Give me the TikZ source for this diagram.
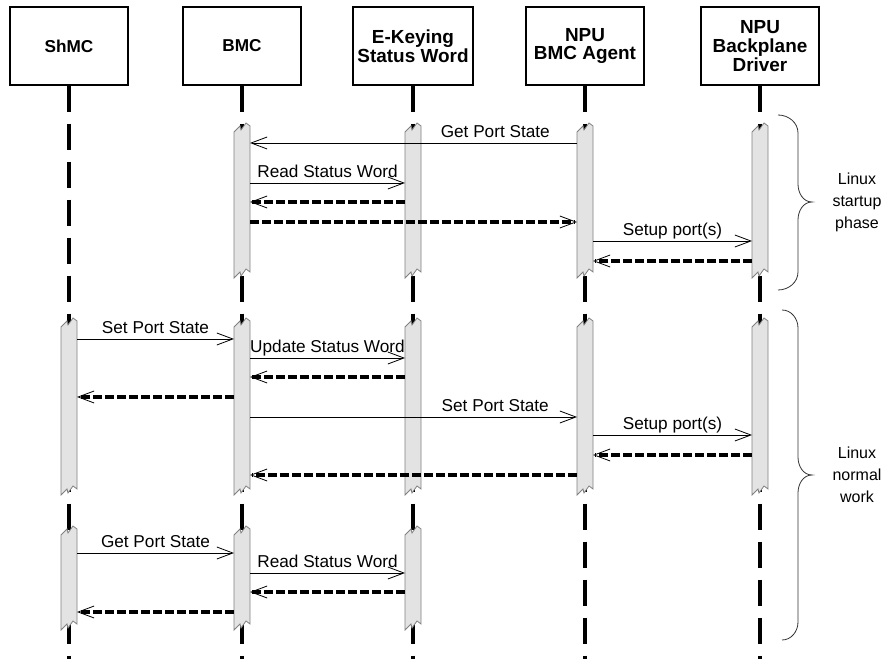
\documentclass[tikz,border=0pt]{standalone}
\usepackage{fontspec}
\setmainfont{Liberation Sans}
\usetikzlibrary{arrows.meta,positioning}

\begin{document}
\begin{tikzpicture}[
    x=0.75pt, y=-0.75pt,
    every node/.style={font=\fontsize{12.9}{14}\selectfont},
    head/.style={draw, line width=0.8pt, minimum width=88.5pt, minimum height=58.5pt,
        align=center, font=\bfseries\fontsize{12.9}{14}\selectfont},
    bighead/.style={head, font=\bfseries\fontsize{14.2}{14}\selectfont},
    life/.style={line width=3pt, dash pattern=on 19.5pt off 9pt},
    msg/.style={line width=0.6pt, -{Straight Barb[length=12pt,width=9pt,line width=0.6pt]}},
    ret/.style={line width=2.5pt, dash pattern=on 6.5pt off 2.5pt,
        -{Straight Barb[length=12pt,width=9pt,line width=0.6pt]}},
    lbl/.style={above, inner sep=1pt, text depth=0.25em},
    phase/.style={align=center, font=\fontsize{12}{16.5}\selectfont},
    brace/.style={line width=0.6pt, black!80},
    actbar/.pic={
        \path[draw=gray, fill=barfill, line width=0.6pt]
            (-8,5) -- (-2,-1) -- (-1,3) -- (4,-4) -- (8,-1)
            -- (8,{#1-1}) -- (4,{#1-4}) -- (-1,{#1+3}) -- (-2,{#1-1}) -- (-8,{#1+5})
            -- cycle;
        \coordinate (-w) at (-8,0);
        \coordinate (-e) at (8,0);
    }
]
    \colorlet{barfill}{gray!22}
    \useasboundingbox (0,0) rectangle (886,659);

    % heads
    \node[head] (shmc) at (69,46) {ShMC};
    \node[head] (bmc) at (242,46) {BMC};
    \node[bighead] (ekey) at (413,46) {E-Keying\\Status Word};
    \node[bighead] (agent) at (585,46) {NPU\\BMC Agent};
    \node[bighead] (drv) at (760,46) {NPU\\Backplane\\Driver};

    % lifelines
    \coordinate (end) at (0,659);
    \draw[life] (shmc.south) -- (shmc.south |- end);
    \draw[life] (bmc.south) -- (bmc.south |- end);
    \draw[life] (ekey.south) -- (ekey.south |- end);
    \draw[life] (agent.south) -- (agent.south |- end);
    \draw[life] (drv.south) -- (drv.south |- end);

    % activations
    \coordinate (g1) at (0,127);
    \coordinate (g2) at (0,322);
    \coordinate (g3) at (0,530);
    \pic (bmc1) at (bmc |- g1) {actbar=146};
    \pic (key1) at (ekey |- g1) {actbar=146};
    \pic (npu1) at (agent |- g1) {actbar=146};
    \pic (drv1) at (drv |- g1) {actbar=146};
    \pic (shmc2) at (shmc |- g2) {actbar=168};
    \pic (bmc2) at (bmc |- g2) {actbar=168};
    \pic (key2) at (ekey |- g2) {actbar=168};
    \pic (npu2) at (agent |- g2) {actbar=168};
    \pic (drv2) at (drv |- g2) {actbar=168};
    \pic (shmc3) at (shmc |- g3) {actbar=95};
    \pic (bmc3) at (bmc |- g3) {actbar=95};
    \pic (key3) at (ekey |- g3) {actbar=95};

    % startup phase
    \coordinate (m1) at (0,143);
    \coordinate (m2) at (0,183);
    \coordinate (m3) at (0,202);
    \coordinate (m4) at (0,222);
    \coordinate (m5) at (0,241);
    \coordinate (m6) at (0,261);
    \draw[msg] (npu1-w |- m1) -- node[lbl, pos=0.25] {Get Port State} (bmc1-e |- m1);
    \draw[msg] (bmc1-e |- m2) -- node[lbl] {Read Status Word} (key1-w |- m2);
    \draw[ret] (key1-w |- m3) -- (bmc1-e |- m3);
    \draw[ret] (bmc1-e |- m4) -- (npu1-w |- m4);
    \draw[msg] (npu1-e |- m5) -- node[lbl] {Setup port(s)} (drv1-w |- m5);
    \draw[ret] (drv1-w |- m6) -- (npu1-e |- m6);

    % normal work
    \coordinate (m7) at (0,339);
    \coordinate (m8) at (0,358);
    \coordinate (m9) at (0,377);
    \coordinate (m10) at (0,397);
    \coordinate (m11) at (0,417);
    \coordinate (m12) at (0,435);
    \coordinate (m13) at (0,455);
    \coordinate (m14) at (0,475);
    \draw[msg] (shmc2-e |- m7) -- node[lbl] {Set Port State} (bmc2-w |- m7);
    \draw[msg] (bmc2-e |- m8) -- node[lbl] {Update Status Word} (key2-w |- m8);
    \draw[ret] (key2-w |- m9) -- (bmc2-e |- m9);
    \draw[ret] (bmc2-w |- m10) -- (shmc2-e |- m10);
    \draw[msg] (bmc2-e |- m11) -- node[lbl, pos=0.75] {Set Port State} (npu2-w |- m11);
    \draw[msg] (npu2-e |- m12) -- node[lbl] {Setup port(s)} (drv2-w |- m12);
    \draw[ret] (drv2-w |- m13) -- (npu2-e |- m13);
    \draw[ret] (npu2-w |- m14) -- (bmc2-e |- m14);

    \coordinate (m15) at (0,553);
    \coordinate (m16) at (0,573);
    \coordinate (m17) at (0,592);
    \coordinate (m18) at (0,612);
    \draw[msg] (shmc3-e |- m15) -- node[lbl] {Get Port State} (bmc3-w |- m15);
    \draw[msg] (bmc3-e |- m16) -- node[lbl] {Read Status Word} (key3-w |- m16);
    \draw[ret] (key3-w |- m17) -- (bmc3-e |- m17);
    \draw[ret] (bmc3-w |- m18) -- (shmc3-e |- m18);

    % braces
    \draw[brace] (778,115) to[out=0,in=90] (798,133) -- (798,184)
        to[out=-90,in=180] (812,202) to[out=180,in=90] (798,220) -- (798,272)
        to[out=-90,in=0] (778,290);
    \draw[brace] (782,310) to[out=0,in=90] (798,328) -- (798,457)
        to[out=-90,in=180] (812,475) to[out=180,in=90] (798,493) -- (798,622)
        to[out=-90,in=0] (782,640);
    \node[phase] (startup) at (857,202) {Linux\\startup\\phase};
    \node[phase] (normal) at (857,475) {Linux\\normal\\work};
\end{tikzpicture}
\end{document}
